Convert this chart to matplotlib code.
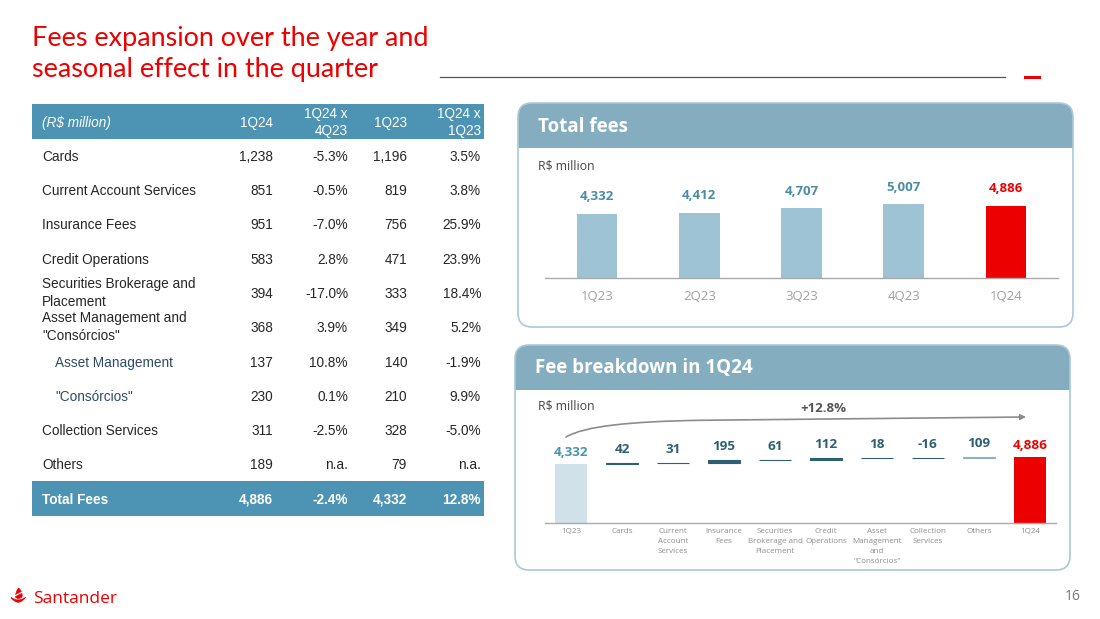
import matplotlib
matplotlib.use("Agg")
import matplotlib.pyplot as plt
from matplotlib.patches import FancyBboxPatch, Rectangle, FancyArrowPatch, PathPatch
from matplotlib.path import Path
import numpy as np

W, H = 1100, 619

# ---------------- data ----------------
title_lines = ["Fees expansion over the year and", "seasonal effect in the quarter"]

table_header = ["(R$ million)", "1Q24", "1Q24 x\n4Q23", "1Q23", "1Q24 x\n1Q23"]
row_labels = ["Cards", "Current Account Services", "Insurance Fees", "Credit Operations",
              "Securities Brokerage and\nPlacement", "Asset Management and\n\"Consórcios\"",
              "Asset Management", "\"Consórcios\"", "Collection Services", "Others"]
col_1q24 = ["1,238", "851", "951", "583", "394", "368", "137", "230", "311", "189"]
col_qoq = ["-5.3%", "-0.5%", "-7.0%", "2.8%", "-17.0%", "3.9%", "10.8%", "0.1%", "-2.5%", "n.a."]
col_1q23 = ["1,196", "819", "756", "471", "333", "349", "140", "210", "328", "79"]
col_yoy = ["3.5%", "3.8%", "25.9%", "23.9%", "18.4%", "5.2%", "-1.9%", "9.9%", "-5.0%", "n.a."]
sub_rows = [False, False, False, False, False, False, True, True, False, False]
total_row = ["Total Fees", "4,886", "-2.4%", "4,332", "12.8%"]

quarters = ["1Q23", "2Q23", "3Q23", "4Q23", "1Q24"]
total_fees = [4332, 4412, 4707, 5007, 4886]

wf_labels = ["1Q23", "Cards", "Current\nAccount\nServices", "Insurance\nFees",
             "Securities\nBrokerage and\nPlacement", "Credit\nOperations",
             "Asset\nManagement\nand\n\"Consórcios\"", "Collection\nServices", "Others", "1Q24"]
wf_start = 4332
wf_deltas = [42, 31, 195, 61, 112, 18, -16, 109]
wf_end = 4886
growth_label = "+12.8%"

# ---------------- colours ----------------
RED = "#EC0000"
TBL_BLUE = "#4D93B3"
HDR_BLUE = "#84AEC0"
BORDER = "#A9C9D9"
BAR_BLUE = "#9DC3D5"
LBL_TEAL = "#4A8CA6"
DARK_TEAL = "#2F5F72"
TXT = "#262626"

fig = plt.figure(figsize=(W / 100, H / 100), dpi=100)
fig.patch.set_facecolor("white")
bg = fig.add_axes([0, 0, 1, 1])
bg.set_xlim(0, W)
bg.set_ylim(H, 0)
bg.axis("off")

# ---------------- title ----------------
renderer = fig.canvas.get_renderer()
t1 = bg.text(32, 46, title_lines[0], fontsize=19, family="Lato", color=RED, va="baseline", ha="left")
bb = t1.get_window_extent(renderer)
fs = 19 * 398 / bb.width
t1.set_fontsize(fs)
bg.text(32, 77, title_lines[1], fontsize=fs, family="Lato", color=RED, va="baseline", ha="left")

bg.plot([440, 1005], [77, 77], color="#555555", lw=0.9)
bg.add_patch(Rectangle((1024, 76), 17, 3, color=RED, lw=0))

# ---------------- table ----------------
TF = "Liberation Sans"
tfs = 9.8
BL = 4.9  # baseline offset from row centre (half cap height, px)
bg.add_patch(Rectangle((32, 104), 452, 35, color=TBL_BLUE, lw=0))
bg.add_patch(Rectangle((32, 481), 452, 35, color=TBL_BLUE, lw=0))
col_x = [273, 348, 407, 481]
bg.text(42, 122 + BL, table_header[0], family=TF, fontsize=tfs, color="white", style="italic",
        va="baseline", ha="left")
for cx, h in zip(col_x, table_header[1:]):
    if "\n" in h:
        bg.text(cx, 122.5, h, family=TF, fontsize=tfs, color="white", va="center", ha="right",
                multialignment="right", linespacing=1.35)
    else:
        bg.text(cx, 122 + BL, h, family=TF, fontsize=tfs, color="white", va="baseline",
                ha="right")

row_y = [156, 190, 224, 259, 293, 327, 362, 396, 430, 464]
for i, y in enumerate(row_y):
    lx = 55 if sub_rows[i] else 42
    lc = "#2E4C66" if sub_rows[i] else TXT
    lab = row_labels[i]
    if "\n" in lab:
        bg.text(lx, y, lab, family=TF, fontsize=tfs, color=lc, va="center", ha="left",
                linespacing=1.35)
    else:
        bg.text(lx, y + BL, lab, family=TF, fontsize=tfs, color=lc, va="baseline", ha="left")
    for cx, col in zip(col_x, [col_1q24, col_qoq, col_1q23, col_yoy]):
        bg.text(cx, y + BL, col[i], family=TF, fontsize=tfs, color=TXT, va="baseline",
                ha="right")

bg.text(42, 499 + BL, total_row[0], family=TF, fontsize=tfs, color="white", weight="bold",
        va="baseline", ha="left")
for cx, v in zip(col_x, total_row[1:]):
    bg.text(cx, 499 + BL, v, family=TF, fontsize=tfs, color="white", weight="bold",
            va="baseline", ha="right")

# ---------------- panels ----------------
def panel(x0, y0, x1, y1, yh, title):
    r = 14
    base = FancyBboxPatch((x0, y0), x1 - x0, y1 - y0,
                          boxstyle=f"round,pad=0,rounding_size={r}",
                          facecolor="white", edgecolor="none", lw=0, zorder=1)
    bg.add_patch(base)
    hdr = FancyBboxPatch((x0, y0), x1 - x0, (yh - y0) + 2 * r,
                         boxstyle=f"round,pad=0,rounding_size={r}",
                         facecolor=HDR_BLUE, edgecolor="none", lw=0, zorder=2)
    bg.add_patch(hdr)
    clip = Rectangle((x0 - 2, y0 - 2), x1 - x0 + 4, yh - y0 + 2, transform=bg.transData)
    hdr.set_clip_path(clip)
    edge = FancyBboxPatch((x0, y0), x1 - x0, y1 - y0,
                          boxstyle=f"round,pad=0,rounding_size={r}",
                          facecolor="none", edgecolor=BORDER, lw=1.2, zorder=3)
    bg.add_patch(edge)
    bg.text(x0 + 20, (y0 + yh) / 2 + 1, title, family="Open Sans", fontsize=13.5, weight="bold",
            color="white", va="center", ha="left", zorder=4)

panel(518, 103, 1073, 327, 148, "Total fees")
panel(515, 345, 1070, 570, 390, "Fee breakdown in 1Q24")

bg.text(538, 166, "R$ million", family="Open Sans", fontsize=8.8, color="#444444",
        va="center", ha="left", zorder=4)
bg.text(538, 406, "R$ million", family="Open Sans", fontsize=8.8, color="#444444",
        va="center", ha="left", zorder=4)

# ---------------- total fees chart ----------------
ax1 = fig.add_axes([545 / W, 1 - 278 / H, (1058 - 545) / W, (278 - 150) / H])
ax1.patch.set_alpha(0)
pu1 = 64 / 4332
x1 = np.arange(len(quarters))
cols1 = [BAR_BLUE] * (len(quarters) - 1) + [RED]
ax1.bar(x1, total_fees, width=0.40, color=cols1, zorder=2)
ax1.set_xlim(-0.5086, 4.5086)
ax1.set_ylim(0, 128 / pu1)
for i, v in enumerate(total_fees):
    ax1.annotate(f"{v:,}", (i, v), xytext=(0, 17 * 0.72), textcoords="offset points",
                 ha="center", va="center", family="Open Sans", fontsize=9.5, weight="bold",
                 color=RED if i == len(total_fees) - 1 else LBL_TEAL)
ax1.set_xticks(x1)
ax1.set_xticklabels(quarters, family="Open Sans", fontsize=9.5, color="#A0A0A0")
ax1.tick_params(axis="x", length=0, pad=9)
ax1.set_yticks([])
for s in ["top", "left", "right"]:
    ax1.spines[s].set_visible(False)
ax1.spines["bottom"].set_color("#AAAAAA")
ax1.spines["bottom"].set_linewidth(1)

# ---------------- waterfall chart ----------------
ax2 = fig.add_axes([545 / W, 1 - 522.5 / H, 511 / W, 127.5 / H])
ax2.patch.set_alpha(0)
pu2 = 58.5 / 4332
n = len(wf_labels)
xw = np.arange(n)
ax2.bar(0, wf_start, width=0.63, color="#D1E1E9", zorder=2)
level = wf_start
tops = [wf_start]
for k, d in enumerate(wf_deltas):
    c = "#8FB3C3" if k == len(wf_deltas) - 1 else DARK_TEAL
    bottom = min(level, level + d)
    ax2.bar(k + 1, abs(d), bottom=bottom, width=0.63, color=c, edgecolor=c, lw=0.8, zorder=2)
    level += d
    tops.append(max(level, level - d))
ax2.bar(n - 1, wf_end, width=0.63, color=RED, zorder=2)
tops.append(wf_end)

vals = [f"{wf_start:,}"] + [f"{d}" for d in wf_deltas] + [f"{wf_end:,}"]
for i, (t, s) in enumerate(zip(tops, vals)):
    if i == 0:
        c, off = "#4D94AE", 11
    elif i == n - 1:
        c, off = RED, 11
    else:
        c, off = DARK_TEAL, 13.5
    ax2.annotate(s, (i, t), xytext=(0, off * 0.72), textcoords="offset points",
                 ha="center", va="center", family="Open Sans", fontsize=9.7, weight="bold",
                 color=c)
ax2.set_xlim(-0.51, 9.51)
ax2.set_ylim(0, 127.5 / pu2)
ax2.set_xticks(xw)
ax2.set_xticklabels(wf_labels, family="Open Sans", fontsize=5.8, color="#8E8E8E",
                    linespacing=1.6)
ax2.tick_params(axis="x", length=0, pad=4)
ax2.set_yticks([])
for s in ["top", "left", "right"]:
    ax2.spines[s].set_visible(False)
ax2.spines["bottom"].set_color("#AAAAAA")
ax2.spines["bottom"].set_linewidth(1)

# growth arrow
bg.text(823, 408, growth_label, family="Open Sans", fontsize=9.5, weight="bold",
        color="#555555", ha="center", va="center", zorder=5)
verts = [(566, 437), (585, 426), (630, 421.5), (700, 420.3), (1026, 417)]
codes = [Path.MOVETO, Path.CURVE4, Path.CURVE4, Path.CURVE4, Path.LINETO]
arr = FancyArrowPatch(path=Path(verts, codes), arrowstyle="-|>", mutation_scale=8,
                      color="#8C8C8C", lw=1.2, zorder=5)
bg.add_patch(arr)

# ---------------- footer ----------------
# Santander flame
flame = Path([(18.5, 588), (23, 592), (22, 597), (18, 600), (15.5, 597), (15, 593), (18.5, 588)],
             [Path.MOVETO, Path.CURVE3, Path.CURVE3, Path.CURVE3, Path.CURVE3, Path.CURVE3,
              Path.CURVE3])
bg.add_patch(PathPatch(flame, facecolor=RED, edgecolor=RED, lw=0.5, zorder=5))
bg.plot([15.5, 21.5], [595.5, 592.5], color="white", lw=0.9, zorder=6)
bowl = Path([(11, 597.5), (18, 607), (25.5, 597.5), (18, 602.5), (11, 597.5)],
            [Path.MOVETO, Path.CURVE3, Path.CURVE3, Path.CURVE3, Path.CURVE3])
bg.add_patch(PathPatch(bowl, facecolor=RED, edgecolor=RED, lw=0.5, zorder=5))
bg.text(33, 603, "Santander", family="Open Sans", fontsize=12.5, color=RED, va="baseline",
        ha="left", zorder=5)
bg.text(1073, 597, "16", family="Open Sans", fontsize=10, color="#777777", va="center",
        ha="center")

fig.savefig("out.png", dpi=100)
